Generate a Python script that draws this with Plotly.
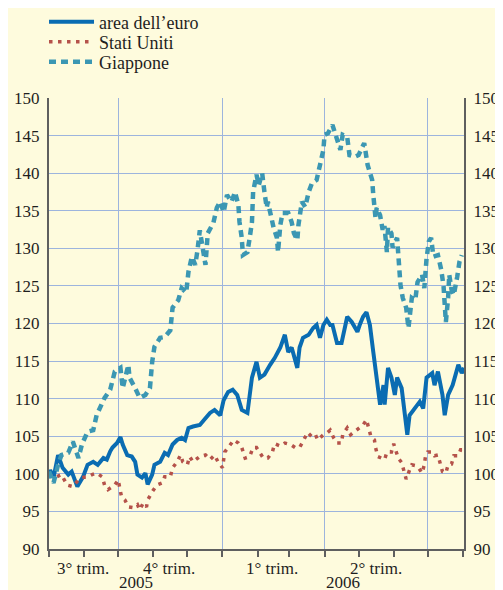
import pandas as pd
import plotly.graph_objects as go

BASE = "2005-08-01"

# area dell'euro: days since 1 Aug 2005, index values
euro_days = [0, 1, 4, 8, 12, 17, 20, 25, 30, 34, 39, 43, 48, 51, 54, 56, 60, 63, 65, 69,
             73, 76, 78, 82, 85, 87, 91, 93, 98, 102, 105, 109, 113, 117, 120, 123, 127, 133,
             138, 142, 146, 151, 154, 158, 162, 166, 170, 175, 179, 183, 186, 190, 195, 199,
             204, 208, 211, 214, 219, 221, 224, 229, 233, 236, 239, 242, 245, 248, 250, 254,
             258, 263, 267, 272, 274, 277, 280, 283, 286, 288, 290, 292, 295, 296, 299, 302,
             305, 307, 311, 314, 316, 318, 323, 327, 330, 333, 338, 340, 343, 347, 349, 352,
             356, 361, 364, 366]
euro_vals = [100.0, 100.5, 99.5, 102.5, 100.8, 99.9, 100.3, 98.3, 99.6, 101.2, 101.6, 101.2,
             102.1, 101.9, 103.0, 103.5, 104.1, 104.9, 103.9, 102.5, 102.3, 101.6, 99.9, 99.5,
             100.1, 98.6, 99.9, 101.2, 101.6, 102.8, 102.5, 103.9, 104.5, 104.8, 104.5, 106.1,
             106.3, 106.5, 107.4, 108.1, 108.5, 107.8, 109.8, 110.9, 111.2, 110.5, 108.5, 108.1,
             112.8, 114.9, 112.8, 113.2, 114.5, 115.4, 116.8, 118.5, 116.2, 116.8, 114.1, 116.8,
             118.1, 118.5, 119.4, 119.8, 118.1, 119.8, 120.5, 119.8, 119.8, 117.4, 117.4, 120.9,
             120.2, 118.9, 119.8, 120.9, 121.5, 119.8, 116.2, 113.6, 111.8, 109.2, 111.8, 109.2,
             114.1, 112.8, 110.5, 112.8, 111.4, 106.9, 105.2, 107.8, 108.7, 109.6, 108.7, 112.8,
             113.4, 111.8, 113.6, 110.5, 107.8, 110.5, 111.8, 114.5, 113.4, 114.1]

# Stati Uniti
us_days = [0, 5, 11, 16, 21, 26, 29, 34, 38, 42, 47, 49, 52, 58, 61, 64, 67, 70, 74, 78, 80,
           83, 86, 87, 91, 95, 100, 102, 107, 109, 113, 116, 118, 122, 124, 127, 133, 138, 142,
           146, 149, 153, 155, 160, 163, 167, 170, 173, 177, 180, 183, 186, 189, 193, 197, 199,
           204, 208, 213, 217, 221, 224, 228, 232, 235, 237, 242, 245, 248, 251, 254, 258, 259,
           263, 266, 271, 274, 277, 280, 282, 284, 287, 288, 290, 294, 296, 298, 302, 304, 306,
           308, 311, 313, 315, 318, 320, 323, 326, 329, 331, 332, 334, 338, 340, 343, 345, 347,
           350, 352, 355, 357, 361, 363, 365]
us_vals = [99.9, 99.5, 99.9, 98.5, 98.3, 99.2, 99.5, 99.6, 99.9, 100.1, 99.6, 98.5, 97.9, 98.5,
           99.2, 96.9, 96.5, 95.6, 95.5, 95.9, 95.2, 96.1, 95.6, 96.5, 97.6, 98.5, 98.8, 99.6,
           99.6, 100.8, 101.6, 102.5, 101.6, 101.2, 102.3, 101.6, 102.3, 102.5, 101.9, 102.5,
           101.6, 100.8, 102.9, 103.9, 104.5, 104.1, 103.5, 102.1, 102.3, 103.5, 103.5, 102.8,
           102.1, 102.1, 102.9, 104.0, 103.7, 104.1, 103.9, 103.5, 103.5, 104.3, 105.5, 104.9,
           105.2, 104.5, 105.2, 105.4, 105.8, 104.8, 104.1, 104.1, 105.2, 106.1, 105.2, 105.8,
           106.1, 106.5, 107.2, 106.1, 104.9, 104.5, 103.5, 102.3, 102.1, 101.9, 102.9, 102.9,
           104.0, 103.2, 102.1, 101.5, 100.4, 99.3, 100.5, 101.2, 101.1, 100.8, 100.1, 101.2,
           102.3, 102.9, 102.9, 102.4, 102.5, 101.5, 100.3, 100.1, 101.2, 101.3, 102.4, 102.4,
           103.2, 103.2]

# Giappone
jp_days = [0, 4, 8, 11, 17, 21, 26, 29, 34, 39, 42, 49, 54, 58, 63, 65, 70, 71, 76, 80, 85,
           89, 91, 93, 98, 102, 107, 109, 114, 117, 121, 123, 126, 129, 131, 133, 138, 140, 145,
           148, 151, 154, 157, 161, 164, 167, 168, 170, 171, 175, 177, 179, 180, 183, 185, 188,
           190, 192, 193, 195, 197, 198, 201, 202, 204, 206, 211, 214, 216, 219, 220, 223, 226,
           229, 232, 236, 239, 242, 243, 246, 250, 254, 257, 259, 263, 265, 270, 273, 278, 281,
           285, 286, 288, 289, 292, 294, 296, 298, 299, 302, 303, 307, 309, 310, 312, 315, 317,
           319, 320, 323, 325, 329, 331, 333, 335, 337, 339, 343, 346, 348, 349, 350, 352, 353,
           355, 357, 360, 362, 364]
jp_vals = [100.3, 98.8, 101.2, 102.5, 102.8, 104.3, 102.1, 103.9, 105.6, 105.8, 107.8, 110.1,
           111.2, 113.6, 114.1, 111.4, 114.5, 112.8, 111.4, 110.1, 110.5, 111.4, 114.9, 116.9,
           118.1, 118.2, 119.1, 122.1, 123.1, 124.7, 124.1, 126.9, 128.9, 127.8, 129.8, 132.4,
           127.8, 132.0, 133.4, 135.4, 136.2, 134.8, 137.1, 136.2, 137.5, 135.8, 133.5, 131.4,
           129.1, 129.5, 131.4, 133.5, 137.5, 139.8, 138.4, 140.0, 137.5, 135.4, 136.2, 134.8,
           133.5, 132.8, 131.4, 129.5, 133.1, 134.7, 134.7, 133.5, 132.0, 131.1, 133.1, 136.2,
           135.5, 137.5, 138.7, 139.1, 141.1, 143.1, 145.1, 145.3, 146.4, 144.4, 143.1, 145.1,
           144.8, 142.4, 142.2, 142.4, 144.0, 141.1, 139.1, 137.1, 134.0, 135.4, 134.4, 132.7,
           132.7, 129.5, 132.8, 132.0, 130.1, 131.4, 127.4, 125.1, 123.4, 122.1, 119.4, 121.5,
           123.4, 123.1, 125.5, 126.5, 124.7, 128.7, 130.9, 131.4, 128.9, 129.1, 127.1, 124.9,
           122.1, 120.2, 123.4, 126.5, 124.5, 123.8, 126.2, 128.2, 129.1]

y_ticks = [90, 95, 100, 105, 110, 115, 120, 125, 130, 135, 140, 145, 150]
quarter_labels = ["3° trim.", "4° trim.", "1° trim.", "2° trim."]
quarter_centers = ["2005-08-31", "2005-11-15", "2006-02-14", "2006-05-16"]
year_labels = ["2005", "2006"]
year_centers = ["2005-10-17", "2006-04-17"]


def to_dates(days):
    return pd.Timestamp(BASE) + pd.to_timedelta(days, unit="D")


BG = "#fefbdd"
FONT = "'Liberation Serif', 'Times New Roman', serif"
GRID = "#9db4dd"
AXIS = "#5f5f5f"
TXT = "#1e1e1e"

fig = go.Figure()
fig.add_trace(go.Scatter(x=to_dates(euro_days), y=euro_vals, mode="lines", name="area dell’euro",
                         legend="legend", line=dict(color="#0a6cb2", width=4)))
fig.add_trace(go.Scatter(x=to_dates(us_days), y=us_vals, mode="lines", name="Stati Uniti",
                         legend="legend2", line=dict(color="#b5524a", width=3.5, dash="3.5px,5.5px")))
fig.add_trace(go.Scatter(x=to_dates(jp_days), y=jp_vals, mode="lines", name="Giappone",
                         legend="legend3", line=dict(color="#3b97b3", width=4.5, dash="7px,5px")))
# invisible trace to carry right-hand axis
fig.add_trace(go.Scatter(x=to_dates([0]), y=[100], yaxis="y2", mode="lines", showlegend=False,
                         hoverinfo="skip", line=dict(width=0)))

for lab, xc in zip(quarter_labels, quarter_centers):
    fig.add_annotation(x=xc, y=0, xref="x", yref="paper", text=lab, showarrow=False,
                       yanchor="middle", yshift=-19, font=dict(family=FONT, size=17, color=TXT))
for lab, xc in zip(year_labels, year_centers):
    fig.add_annotation(x=xc, y=0, xref="x", yref="paper", text=lab, showarrow=False,
                       yanchor="middle", yshift=-33, font=dict(family=FONT, size=17, color=TXT))

yax = dict(range=[90, 150], tickvals=y_ticks, showgrid=True, gridcolor=GRID, gridwidth=1,
           showline=True, linecolor=AXIS, linewidth=2, ticks="", zeroline=False,
           tickfont=dict(family=FONT, size=17, color=TXT), ticklabelstandoff=4,
           automargin=False, fixedrange=True)


def leg(ypos):
    return dict(x=-0.012, xanchor="left", y=ypos, yanchor="middle", bgcolor="rgba(0,0,0,0)",
                font=dict(family=FONT, size=18, color=TXT), itemwidth=45)


fig.update_layout(
    width=495, height=582,
    margin=dict(l=41, r=39, t=90, b=41, autoexpand=False),
    paper_bgcolor=BG, plot_bgcolor=BG,
    font=dict(family=FONT, size=17, color=TXT),
    xaxis=dict(type="date", range=["2005-08-01", "2006-08-02"],
               tick0="2005-07-01", dtick="M3", showticklabels=False,
               showgrid=True, gridcolor=GRID, gridwidth=1,
               ticks="outside", ticklen=6, tickcolor=AXIS, tickwidth=1.5,
               minor=dict(dtick="M1", tick0="2005-08-01", ticks="outside", ticklen=6,
                          tickcolor=AXIS, tickwidth=1.5, showgrid=False),
               showline=True, linecolor=AXIS, linewidth=2, zeroline=False, automargin=False),
    yaxis=yax,
    yaxis2=dict(yax, overlaying="y", side="right", showgrid=False),
    legend=leg(1.1685),
    legend2=leg(1.1242),
    legend3=leg(1.0798),
    showlegend=True,
)

fig.write_html("out.html")
